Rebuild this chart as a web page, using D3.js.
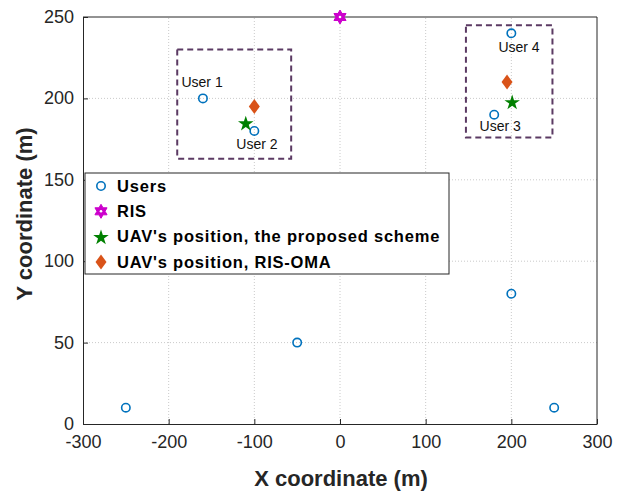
<!DOCTYPE html>
<html>
<head>
<meta charset="utf-8">
<script src="https://cdn.jsdelivr.net/npm/d3@7"></script>
<style>
  body { margin: 0; background: #fff; }
  svg { font-family: "Liberation Sans", Arial, sans-serif; }
</style>
</head>
<body>
<div id="chart"></div>
<script>
// data
const userX = [-250, -50, 200, 250, -160, -100, 180, 200]
const userY = [10, 50, 80, 10, 200, 180, 190, 240]
const risX = [0]
const risY = [250]
const uavX = [-110, 201]
const uavY = [185, 198]
const omaX = [-100, 195]
const omaY = [195, 210]
const userLabels = ["User 1", "User 2", "User 3", "User 4"]
const labelX = [-161, -97, 187, 209]     // label anchor positions (data units)
const labelY = [207, 169, 180, 228.5]
const boxX0 = [-190, 147]
const boxX1 = [-57, 248]
const boxY0 = [163, 176]
const boxY1 = [230, 245]
const xTicks = [-300, -200, -100, 0, 100, 200, 300]
const yTicks = [0, 50, 100, 150, 200, 250]
const legendNames = ["Users", "RIS", "UAV's position, the proposed scheme", "UAV's position, RIS-OMA"]

const width = 625
const height = 492
const marginLeft = 83
const marginRight = 28
const marginTop = 17
const marginBottom = 68

const blue = "#0072BD", magenta = "#CC00CC", green = "#008000", orange = "#D95319"

const svg = d3.select("#chart").append("svg")
    .attr("width", width)
    .attr("height", height)
    .attr("viewBox", [0, 0, width, height])

const x = d3.scaleLinear([-300, 300], [marginLeft, width - marginRight])
const y = d3.scaleLinear([0, 250], [height - marginBottom, marginTop])

// grid
svg.append("g")
    .attr("stroke", "#bdbdbd")
    .attr("stroke-width", 0.8)
    .attr("stroke-dasharray", "1,2")
    .call(g => g.selectAll(".gx").data(xTicks.slice(1, -1)).join("line")
        .attr("x1", d => x(d)).attr("x2", d => x(d))
        .attr("y1", y(0)).attr("y2", y(250)))
    .call(g => g.selectAll(".gy").data(yTicks.slice(1, -1)).join("line")
        .attr("class", "gy")
        .attr("y1", d => y(d)).attr("y2", d => y(d))
        .attr("x1", x(-300)).attr("x2", x(300)))

// axes (ticks inside like matlab)
const xAxis = d3.axisBottom(x).tickValues(xTicks).tickFormat(d => String(d))
    .tickSizeInner(-5).tickSizeOuter(0).tickPadding(11)
const yAxis = d3.axisLeft(y).tickValues(yTicks).tickFormat(d => String(d))
    .tickSizeInner(-5).tickSizeOuter(0).tickPadding(9)

svg.append("g")
    .attr("transform", `translate(0,${y(0)})`)
    .call(xAxis)
    .call(g => g.selectAll("text").attr("font-size", 18).attr("fill", "#262626").attr("font-family", "Liberation Sans, Arial"))
    .call(g => g.selectAll("line,path").attr("stroke", "#262626"))

svg.append("g")
    .attr("transform", `translate(${x(-300)},0)`)
    .call(yAxis)
    .call(g => g.selectAll("text").attr("font-size", 18).attr("fill", "#262626").attr("font-family", "Liberation Sans, Arial").attr("dy", "0.3em"))
    .call(g => g.selectAll("line,path").attr("stroke", "#262626"))

// top / right box
svg.append("path")
    .attr("fill", "none")
    .attr("stroke", "#262626")
    .attr("d", `M${x(-300)},${y(250)}H${x(300)}V${y(0)}`)

// axis labels
svg.append("text")
    .attr("x", x(0) + 1).attr("y", 486)
    .attr("text-anchor", "middle")
    .attr("font-size", 22).attr("font-weight", "bold").attr("fill", "#262626")
    .text("X coordinate (m)")

svg.append("text")
    .attr("transform", `translate(32,${y(129)}) rotate(-90)`)
    .attr("text-anchor", "middle")
    .attr("font-size", 22).attr("font-weight", "bold").attr("fill", "#262626")
    .text("Y coordinate (m)")

// dashed boxes
svg.append("g")
    .selectAll("rect")
    .data(d3.range(boxX0.length))
    .join("rect")
    .attr("x", i => x(boxX0[i]))
    .attr("y", i => y(boxY1[i]))
    .attr("width", i => x(boxX1[i]) - x(boxX0[i]))
    .attr("height", i => y(boxY0[i]) - y(boxY1[i]))
    .attr("fill", "none")
    .attr("stroke", "#5B3A63")
    .attr("stroke-width", 2)
    .attr("stroke-dasharray", "6,4")

// markers
const hexagram = r => {
    const pts = []
    for (let k = 0; k < 12; k++) {
        const a = Math.PI / 6 * k - Math.PI / 2
        const rr = k % 2 === 0 ? r : r * 0.58
        pts.push([rr * Math.cos(a), rr * Math.sin(a)])
    }
    return "M" + pts.map(p => p.join(",")).join("L") + "Z"
}
const star = d3.symbol(d3.symbolStar, 75)()
const diamond = "M0,-7.5L5.5,0L0,7.5L-5.5,0Z"

function drawUser(g, px, py) {
    g.append("circle").attr("cx", px).attr("cy", py).attr("r", 4.2)
        .attr("fill", "none").attr("stroke", blue).attr("stroke-width", 1.6)
}
function drawRis(g, px, py) {
    g.append("path").attr("transform", `translate(${px},${py})`).attr("d", hexagram(7))
        .attr("fill", magenta).attr("stroke", magenta).attr("stroke-width", 1)
    g.append("circle").attr("cx", px).attr("cy", py).attr("r", 1.3).attr("fill", "#fff")
}
function drawStar(g, px, py) {
    g.append("path").attr("transform", `translate(${px},${py + 1})`).attr("d", star).attr("fill", green)
}
function drawDiamond(g, px, py) {
    g.append("path").attr("transform", `translate(${px},${py})`).attr("d", diamond).attr("fill", orange)
}

const marks = svg.append("g")
userX.forEach((d, i) => drawUser(marks, x(d), y(userY[i])))
risX.forEach((d, i) => drawRis(marks, x(d), y(risY[i])))
uavX.forEach((d, i) => drawStar(marks, x(d), y(uavY[i])))
omaX.forEach((d, i) => drawDiamond(marks, x(d), y(omaY[i])))

// user labels
svg.append("g")
    .attr("font-size", 14)
    .attr("fill", "#111")
    .selectAll("text")
    .data(userLabels)
    .join("text")
    .attr("x", (d, i) => x(labelX[i]))
    .attr("y", (d, i) => y(labelY[i]))
    .attr("text-anchor", "middle")
    .text(d => d)

// legend
const lg = svg.append("g").attr("transform", "translate(85,173)")
lg.append("rect").attr("width", 364).attr("height", 101)
    .attr("fill", "#fff").attr("stroke", "#262626").attr("stroke-width", 1)
const drawers = [drawUser, drawRis, drawStar, drawDiamond]
legendNames.forEach((name, i) => {
    const cy = 13 + i * 25.3
    drawers[i](lg, 16, cy)
    lg.append("text").attr("x", 32).attr("y", cy).attr("dy", "0.35em")
        .attr("font-size", 16.5).attr("font-weight", "bold").attr("fill", "#000")
        .attr("letter-spacing", 0.8)
        .text(name)
})
</script>
</body>
</html>
